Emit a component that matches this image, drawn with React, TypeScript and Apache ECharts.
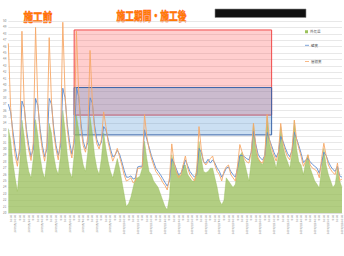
import React, { useEffect, useRef } from "react";
import * as echarts from "echarts";

// 外気温 (outside temperature), 4-hour steps starting 2019/8/1 12:00
const outside = [
  33.2, 31.5, 28.0, 25.5, 23.4, 27.5,
  34.5, 32.0, 28.5, 26.5, 25.5, 28.5,
  34.6, 32.2, 28.8, 26.6, 25.4, 28.2,
  34.0, 32.5, 29.0, 27.0, 26.0, 29.0,
  36.0, 33.0, 29.0, 26.5, 25.5, 29.0,
  35.3, 33.0, 29.5, 27.5, 26.5, 29.5,
  35.0, 32.5, 29.0, 27.0, 26.0, 28.5,
  32.5, 30.0, 28.0, 26.5, 25.5, 27.0,
  28.5, 27.0, 25.0, 23.0, 21.0, 21.5,
  22.5, 24.0, 25.5, 25.5, 25.8, 27.0,
  31.2, 28.5, 26.5, 26.0, 25.0, 24.5,
  24.0, 23.0, 22.0, 21.0, 20.5, 22.5,
  29.1, 27.5, 26.5, 26.0, 25.8, 27.5,
  27.5, 26.0, 25.5, 25.0, 25.0, 27.0,
  31.2, 28.5, 26.5, 26.3, 26.5, 27.0,
  27.0, 25.5, 24.0, 22.0, 21.3, 22.0,
  25.5, 25.0, 24.5, 24.0, 24.5, 27.0,
  29.0, 29.5, 28.0, 26.5, 25.0, 28.0,
  34.0, 30.0, 28.5, 28.0, 27.5, 29.0,
  35.0, 31.0, 29.5, 28.5, 27.0, 29.0,
  33.5, 30.5, 29.0, 28.0, 27.0, 29.5,
  34.5, 30.0, 28.0, 27.5, 26.0, 28.0,
  29.1, 27.0, 26.0, 25.0, 24.5, 23.9,
  27.0, 30.1, 27.5, 26.0, 25.0, 24.0,
  24.5, 27.0, 25.0, 24.0,
];

// 壁裏 (inside wall)
const wall = [
  37.0, 35.8, 32.8, 30.2, 28.2, 29.5,
  37.5, 36.5, 33.0, 30.5, 28.8, 30.0,
  37.9, 36.8, 33.2, 30.5, 28.8, 30.0,
  37.9, 37.0, 33.3, 30.6, 29.0, 30.5,
  39.5, 38.0, 33.8, 31.0, 29.2, 31.0,
  39.6, 38.2, 34.0, 31.2, 30.0, 31.0,
  38.0, 37.2, 33.7, 31.5, 30.5, 31.0,
  33.5, 33.0, 31.5, 30.0, 28.8, 29.0,
  29.8, 29.2, 28.0, 26.7, 25.6, 25.6,
  25.8, 25.3, 25.5, 27.2, 27.3, 27.3,
  33.0, 31.5, 30.3, 29.0, 28.0, 27.0,
  26.5, 26.0, 25.4, 24.8, 24.2, 25.0,
  28.5, 27.8, 26.9, 26.0, 26.2, 27.0,
  28.3, 27.4, 26.5, 26.0, 25.6, 26.0,
  30.1, 29.5, 28.0, 27.8, 28.4, 27.8,
  28.3, 27.8, 27.0, 26.5, 25.6, 26.2,
  27.0, 27.2, 26.5, 26.0, 25.6, 27.0,
  29.0, 29.0, 28.8, 28.5, 28.3, 29.5,
  32.8, 30.8, 29.2, 28.6, 28.3, 29.0,
  32.6, 31.5, 30.5, 29.5, 28.7, 29.5,
  32.0, 31.2, 30.2, 29.3, 28.8, 29.8,
  32.6, 31.6, 30.5, 29.3, 27.9, 28.3,
  28.5, 28.0, 27.6, 27.3, 27.0, 26.2,
  27.8, 29.5, 29.0, 28.0, 27.3, 26.8,
  26.5, 27.3, 25.8, 25.6,
];

// 屋根裏 (attic)
const attic = [
  46.5, 36.5, 32.0, 29.0, 27.3, 30.5,
  48.4, 36.8, 32.2, 29.8, 28.2, 31.0,
  49.0, 37.2, 32.5, 29.8, 28.1, 31.0,
  47.4, 37.5, 32.5, 30.0, 28.3, 31.5,
  49.8, 38.5, 33.0, 30.2, 28.6, 32.0,
  48.4, 38.8, 33.2, 30.5, 29.5, 32.0,
  45.4, 37.5, 33.0, 30.8, 30.0, 31.5,
  35.8, 33.5, 31.0, 29.5, 28.1, 29.0,
  30.1, 28.8, 27.5, 26.0, 25.0, 25.2,
  25.5, 24.7, 25.0, 27.0, 27.0, 27.2,
  35.4, 32.0, 30.0, 28.6, 27.5, 26.5,
  26.0, 25.5, 24.8, 24.3, 23.6, 25.5,
  30.8, 28.0, 26.5, 25.5, 26.0, 27.5,
  28.9, 27.0, 26.0, 25.5, 25.0, 26.5,
  33.5, 30.0, 28.0, 27.5, 28.0, 28.5,
  28.9, 27.5, 26.5, 26.0, 25.0, 26.5,
  27.2, 27.5, 26.0, 25.5, 25.0, 27.5,
  30.7, 29.5, 28.5, 28.0, 27.8, 29.5,
  34.0, 30.5, 28.6, 28.0, 27.8, 29.0,
  35.4, 31.5, 30.1, 29.0, 28.1, 29.5,
  34.0, 31.0, 29.7, 28.8, 28.3, 30.0,
  34.5, 31.5, 30.1, 28.8, 27.3, 28.1,
  29.1, 27.5, 27.0, 26.8, 26.5, 25.5,
  28.5, 30.9, 29.0, 27.5, 26.8, 26.3,
  26.0, 27.8, 25.1, 25.3,
];

// time categories (4-hour steps)
const categories = attic.map((_, i) => {
  const d = new Date(2019, 7, 1, 12 + 4 * i, 0);
  return `${d.getFullYear()}/${d.getMonth() + 1}/${d.getDate()} ${d.getHours()}:00`;
});

const seriesNames = ["外気温", "壁裏", "屋根裏"];
const titleBefore = "施工前";
const titleAfter = "施工期間・施工後";

// highlighted ranges: [start index, end index, low, high]
const atticRange = [29, 116, 35.3, 48.6];
const wallRange = [29, 116, 32.2, 39.6];

const FONT = "'Noto Sans CJK JP', 'Noto Sans', sans-serif";

export default function App() {
  const ref = useRef<HTMLDivElement>(null);
  useEffect(() => {
    if (!ref.current) return;
    const chart = echarts.init(ref.current, null, { renderer: "svg" });
    const legendText = { fontSize: 3.5, color: "#595959", fontFamily: FONT, padding: [0, 0, 0, -3] };
    chart.setOption({
      animation: false,
      textStyle: { fontFamily: FONT },
      grid: { left: 7, right: 2, top: 21, bottom: 43 },
      legend: [
        { data: [seriesNames[0]], left: 305, top: 30, icon: "rect", itemWidth: 3, itemHeight: 3, padding: 0, textStyle: legendText },
        { data: [seriesNames[1]], left: 305, top: 43.5, icon: "rect", itemWidth: 4, itemHeight: 0.8, padding: 0, textStyle: legendText },
        { data: [seriesNames[2]], left: 305, top: 59.7, icon: "rect", itemWidth: 4, itemHeight: 0.8, padding: 0, textStyle: legendText },
      ],
      xAxis: {
        type: "category",
        data: categories,
        boundaryGap: false,
        axisLine: { lineStyle: { color: "#D9D9D9", width: 0.6 } },
        axisTick: { show: false },
        axisLabel: {
          rotate: 90,
          fontSize: 2.8,
          color: "#7F7F7F",
          margin: 2,
          interval: (index: number) => index % 2 === 1,
          formatter: (v: string) => (v.endsWith(" 0:00") ? v : v.split(" ")[1]),
        },
        splitLine: { show: false },
      },
      yAxis: {
        type: "value",
        min: 20,
        max: 50,
        interval: 1,
        axisLine: { show: false },
        axisTick: { show: false },
        axisLabel: { fontSize: 3, color: "#7F7F7F", margin: 2 },
        splitLine: { lineStyle: { color: "#D9D9D9", width: 0.6 } },
      },
      graphic: [
        {
          type: "text",
          x: 23.5,
          y: 10,
          scaleX: 0.8,
          style: {
            text: titleBefore,
            fontSize: 12,
            fontWeight: "bold",
            fontFamily: FONT,
            fill: "#FF7A00",
            stroke: "#FF3A00",
            lineWidth: 0.5,
          },
        },
        {
          type: "text",
          x: 116.5,
          y: 10,
          scaleX: 0.73,
          style: {
            text: titleAfter,
            fontSize: 12,
            fontWeight: "bold",
            fontFamily: FONT,
            fill: "#FF7A00",
            stroke: "#FF3A00",
            lineWidth: 0.5,
          },
        },
        {
          type: "rect",
          shape: { x: 215, y: 9, width: 91, height: 8.5 },
          style: { fill: "#111111", stroke: "#8A8A8A", lineWidth: 0.6 },
        },
      ],
      series: [
        {
          name: seriesNames[0],
          type: "line",
          data: outside,
          symbol: "none",
          lineStyle: { color: "#94BB52", width: 0.5, opacity: 0.75 },
          itemStyle: { color: "#9BC25A" },
          areaStyle: { color: "#94BB52", opacity: 0.72 },
          z: 1,
        },
        {
          name: seriesNames[1],
          type: "line",
          data: wall,
          symbol: "none",
          lineStyle: { color: "#5B8BD0", width: 0.9 },
          itemStyle: { color: "#5B8BD0" },
          z: 2,
        },
        {
          name: seriesNames[2],
          type: "line",
          data: attic,
          symbol: "none",
          lineStyle: { color: "#F6A868", width: 0.9 },
          itemStyle: { color: "#F6A868" },
          z: 3,
        },
        {
          name: "ranges",
          type: "line",
          data: [],
          z: 10,
          markArea: {
            silent: true,
            data: [
              [
                {
                  xAxis: atticRange[0],
                  yAxis: atticRange[3],
                  itemStyle: { color: "rgba(255,60,60,0.25)", borderColor: "#F04848", borderWidth: 1 },
                },
                { xAxis: atticRange[1], yAxis: atticRange[2] },
              ],
              [
                {
                  xAxis: wallRange[0],
                  yAxis: wallRange[3],
                  itemStyle: { color: "rgba(70,140,210,0.28)", borderColor: "#3A64A8", borderWidth: 1 },
                },
                { xAxis: wallRange[1], yAxis: wallRange[2] },
              ],
            ],
          },
        },
      ],
    });
    return () => chart.dispose();
  }, []);
  return <div ref={ref} style={{ width: 344, height: 256, position: "absolute", left: 0, top: 0 }} />;
}
